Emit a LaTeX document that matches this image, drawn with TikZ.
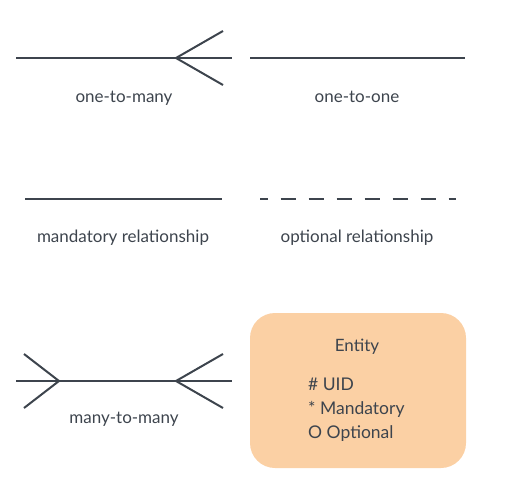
\documentclass[tikz,border=0pt]{standalone}
\usepackage{fontspec}
\setmainfont{Lato}
\definecolor{ink}{HTML}{3D444D}
\definecolor{peach}{HTML}{FBD0A4}
\begin{document}
\begin{tikzpicture}[x=1pt,y=-1pt,
  rel/.style={draw=ink, line width=2pt},
  lbl/.style={text=ink, font=\fontsize{17}{20}\selectfont, inner sep=0pt, anchor=base},
  attr/.style={lbl, anchor=base west, font=\fontsize{17.5}{20}\selectfont},
  entitybox/.style={fill=peach, draw=none, rounded corners=25pt}]
\useasboundingbox (0,0) rectangle (516,486);
% one-to-many
\coordinate (a1) at (16,58);
\coordinate (a2) at (232,58);
\coordinate (av) at (176,58);
\coordinate (at) at (223,31);
\coordinate (ab) at (223,85);
\draw[rel] (a1) -- (a2);
\draw[rel] (at) -- (av) -- (ab);
\node[lbl] (l1) at (124,103) {one-to-many};
% one-to-one
\coordinate (b1) at (250,58);
\coordinate (b2) at (465,58);
\draw[rel] (b1) -- (b2);
\node[lbl] (l2) at (357,103) {one-to-one};
% mandatory
\coordinate (c1) at (25,199);
\coordinate (c2) at (222,199);
\draw[rel] (c1) -- (c2);
\node[lbl] (l3) at (123,243) {mandatory relationship};
% optional
\coordinate (d1) at (260,199);
\coordinate (d2) at (456,199);
\draw[rel, dash pattern=on 15pt off 13pt, dash phase=7.5pt] (d1) -- (d2);
\node[lbl] (l4) at (357,243) {optional relationship};
% many-to-many
\coordinate (e1) at (16,381);
\coordinate (e2) at (232,381);
\coordinate (elv) at (59,381);
\coordinate (elt) at (24,354);
\coordinate (elb) at (24,408);
\coordinate (erv) at (176,381);
\coordinate (ert) at (223,354);
\coordinate (erb) at (223,408);
\draw[rel] (e1) -- (e2);
\draw[rel] (elt) -- (elv) -- (elb);
\draw[rel] (ert) -- (erv) -- (erb);
\node[lbl] (l5) at (124,423) {many-to-many};
% entity
\path[entitybox] (250,313) rectangle (466,468);
\node[lbl] (ent) at (357,351) {Entity};
\node[attr] (uid) at (308,390) {\# UID};
\node[attr] (man) at (308,414) {* Mandatory};
\node[attr] (opt) at (308,438) {O Optional};
\end{tikzpicture}
\end{document}
